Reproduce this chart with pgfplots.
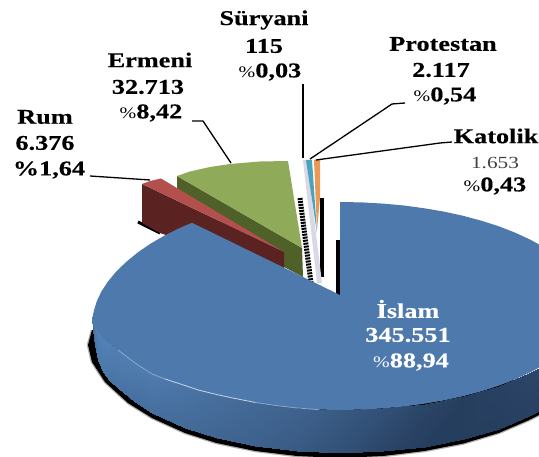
\documentclass[border=0pt]{standalone}
\usepackage{pgfplots}
\usepackage{fontspec}
\pgfplotsset{compat=1.18}
\setmainfont[FakeStretch=1.25,BoldFeatures={FakeBold=0.35}]{Liberation Serif}
\definecolor{bluetop}{RGB}{77,121,173}
\definecolor{redtop}{RGB}{179,79,76}
\definecolor{redwall}{RGB}{90,34,32}
\definecolor{greentop}{RGB}{143,170,88}
\definecolor{greenwall}{RGB}{79,97,40}
\definecolor{teal2}{RGB}{74,163,189}
\definecolor{orange2}{RGB}{232,154,85}
\definecolor{lav}{RGB}{216,216,230}
\pgfplotsset{colormap={pie}{rgb255=(31,51,80) rgb255=(92,143,200)}}
\newcommand{\lab}[3]{\node[font=\fontsize{21}{24}\selectfont\bfseries,text=#3,inner sep=0pt] at (axis cs:#1) {#2};}
\newcommand{\pc}{{\fontsize{16}{16}\selectfont\mdseries\%}}
\begin{document}
\begin{tikzpicture}
\begin{axis}[width=539pt,height=457pt,scale only axis,hide axis,
  xmin=0,xmax=539,ymin=0,ymax=457,y dir=reverse,clip=true,
  point meta min=0,point meta max=1,colormap name=pie]
% shadow under the big slice
\addplot[draw=black,draw opacity=.3,line width=2.5pt,line join=round] coordinates {
(92,330)(88,345)(92,362)(105,382)(128,403)(152,418)(185,433)(216.5,443)(255.5,451)(297,456)(340,458)(383,456)(424.5,451)(463.5,443.5)(498.8,433)(529.2,420)(539,415)};
\addplot[draw=none,fill=black] coordinates {
(92,330)(88,345)(92,362)(105,382)(128,403)(152,418)(185,433)(216.5,443)(255.5,451)(297,456)(340,458)(383,456)(424.5,451)(463.5,443.5)(498.8,433)(529.2,420)(539,415)(539,380)(340,380)(92,330)} --cycle;
% wall
\addplot[patch,patch type=rectangle,shader=interp,point meta=explicit]
coordinates {
(92.5,317)[.85] (95,326)[.85] (95,345)[.7] (93.5,330)[.6]
(95,326)[.85] (98,331)[.85] (98,360)[.75] (95,345)[.7]
(98,331)[.85] (102,337)[.85] (103,372)[.75] (98,360)[.75]
(102,337)[.85] (110,344)[.85] (110,381)[.7] (103,372)[.75]
(110,344)[.85] (118,350)[.82] (118,388)[.7] (110,381)[.7]
(118,350)[.82] (135,363)[.8] (135,402)[.65] (118,388)[.7]
(135,363)[.8] (152,374)[.78] (152,413)[.65] (135,402)[.65]
(152,374)[.78] (185,385.5)[.72] (185,428)[.6] (152,413)[.65]
(185,385.5)[.72] (216.5,394.5)[.65] (216.5,438)[.55] (185,428)[.6]
(216.5,394.5)[.65] (255.5,402.5)[.58] (255.5,446)[.5] (216.5,438)[.55]
(255.5,402.5)[.58] (297,408)[.52] (297,451)[.42] (255.5,446)[.5]
(297,408)[.52] (340,410)[.42] (340,453)[.32] (297,451)[.42]
(340,410)[.42] (383,408.4)[.32] (383,451.4)[.2] (340,453)[.32]
(383,408.4)[.32] (424.5,403.7)[.2] (424.5,446.7)[.12] (383,451.4)[.2]
(424.5,403.7)[.2] (463.5,396.1)[.12] (463.5,439.1)[.12] (424.5,446.7)[.12]
(463.5,396.1)[.12] (498.8,385.7)[.15] (498.8,428.7)[.12] (463.5,439.1)[.12]
(498.8,385.7)[.15] (529.2,372.9)[.2] (529.2,415.9)[.15] (498.8,428.7)[.12]
(529.2,372.9)[.2] (539,367.6)[.2] (539,411)[.15] (529.2,415.9)[.15]
};
% black traces behind
\addplot[black,line width=3pt] coordinates {(138,222)(160,233)};
\addplot[black,line width=5pt,dash pattern=on 2pt off 1pt] coordinates {(300,198)(311,283)};
\addplot[black,line width=4pt] coordinates {(322,198)(322,277)};
\addplot[black,line width=4pt] coordinates {(338,240)(338,296)};
% green
\addplot[draw=none,fill=greenwall] coordinates {(177,176)(302,248)(303,277)(284,267)(177,190)} --cycle;
\addplot[draw=none,fill=greentop] coordinates {(177,176)(190,171.5)(210,167)(230,164)(260,161.5)(288,161)(302,248)} --cycle;
% red
\addplot[draw=none,fill=redwall] coordinates {(142,184)(284,252)(284,275)(160,233)(142,223)} --cycle;
\addplot[draw=none,fill=redtop] coordinates {(142,184)(150,181)(161,178.5)(284,252)} --cycle;
% thin slices
\addplot[draw=none,fill=lav] coordinates {(303,160)(307,160)(322,283)(317,283)} --cycle;
\addplot[draw=none,fill=teal2] coordinates {(306,160)(312,160)(317,233)} --cycle;
\addplot[draw=none,fill=orange2] coordinates {(314,160)(320,160)(320,198)(317,230)} --cycle;
% big slice
\addplot[draw=none,fill=bluetop] coordinates {
(340,295)(340,202)(361.5,202.4)(382.9,203.6)(403.9,205.5)(424.5,208.3)(444.4,211.7)(463.5,215.9)(481.7,220.8)(498.8,226.3)(514.7,232.5)(529.2,239.1)(539,244.4)
(539,367.6)(529.2,372.9)(514.7,379.5)(498.8,385.7)(481.7,391.2)(463.5,396.1)(444.4,400.3)(424.5,403.7)(403.9,406.5)(382.9,408.4)(361.5,409.6)(340,410)
(318.5,409.6)(297,408)(276,405.5)(255.5,402.5)(235,398.5)(216.5,394.5)(198.3,390)(185,385.5)(165,379)(152,374)(135,363)(118,350)(110,344)(102,337)(98,331)(95,326)(92.5,317)
(93.9,310.7)(96.8,301.2)(101.4,291.5)(107.9,281.6)(116.1,271.7)(126.1,262)(137.7,252.5)(150.8,243.5)(165.3,235.1)(181.2,227.3)(192,222.8)} --cycle;
% rim highlight
\addplot[color=white!35!bluetop,line width=.8pt] coordinates {(118,350)(135,363)(152,374)(165,379)};
\addplot[color=white!70!bluetop,line width=.8pt] coordinates {(165,379)(185,385.5)(198.3,390)(216.5,394.5)(235,398.5)(255.5,402.5)};
\addplot[color=white!35!bluetop,line width=.8pt] coordinates {(255.5,402.5)(276,405.5)(297,408)(318.5,409.6)};
% leader lines
\addplot[black,line width=1.3pt] coordinates {(90,176)(150,180)};
\addplot[black,line width=1.3pt] coordinates {(192,121)(203,121)(231,163)};
\addplot[black,line width=1.3pt] coordinates {(303,84)(303,158)};
\addplot[black,line width=1.3pt] coordinates {(405,103)(392,104)(310,159)};
\addplot[black,line width=1.3pt] coordinates {(452,142)(440,143)(316,160)};
% labels
\lab{45,117}{Rum}{black}
\lab{45,143}{6.376}{black}
\lab{49,170}{\%1,64}{black}
\lab{150,60}{Ermeni}{black}
\lab{148,87}{32.713}{black}
\lab{151,113}{\pc 8,42}{black}
\lab{264,20}{Süryani}{black}
\lab{264,46}{115}{black}
\lab{270,72}{\pc 0,03}{black}
\lab{443,44}{Protestan}{black}
\lab{441,70}{2.117}{black}
\lab{445,96}{\pc 0,54}{black}
\lab{496,136}{Katolik}{black}
\node[font=\fontsize{17}{18}\selectfont,text=black!75,inner sep=0pt] at (axis cs:495,163) {1.653};
\lab{495,186}{\pc 0,43}{black}
\lab{408,309}{İslam}{white}
\lab{408,335}{345.551}{white}
\lab{411,362}{\pc 88,94}{white}
\end{axis}
\pgfresetboundingbox
\useasboundingbox (0,0) rectangle (539pt,457pt);
\end{tikzpicture}
\end{document}
